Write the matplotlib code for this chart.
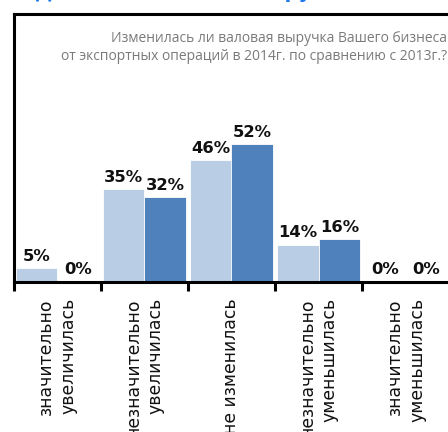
import matplotlib
matplotlib.use("Agg")
import matplotlib.pyplot as plt
import numpy as np

# Survey answers and shares (%) for the two years
categories = [
    "значительно\nувеличилась",
    "незначительно\nувеличилась",
    "не изменилась",
    "незначительно\nуменьшилась",
    "значительно\nуменьшилась",
]
share_2013 = [5, 35, 46, 14, 0]
share_2014 = [0, 32, 52, 16, 0]

title_lines = [
    "Изменилась ли валовая выручка Вашего бизнеса",
    "от экспортных операций в 2014г. по сравнению с 2013г.?",
]
heading = "Динамика валовой выручки от экспортных операций"

W, H = 448, 432
fig = plt.figure(figsize=(W / 100, H / 100), dpi=100)

# plot area in pixel coordinates (left, top, right, bottom)
px_l, px_t, px_r, px_b = 13.5, 13.5, 449.5, 281.5
ax = fig.add_axes([px_l / W, 1 - px_b / H, (px_r - px_l) / W, (px_b - px_t) / H])

x = np.arange(len(categories))
bw = 0.475
light = "#B9CDE5"
dark = "#4F81BD"
b1 = ax.bar(x - bw / 2, share_2013, width=bw, color=light, edgecolor="white", linewidth=0.6)
b2 = ax.bar(x + bw / 2, share_2014, width=bw, color=dark, edgecolor="white", linewidth=0.6)

for bars, vals in ((b1, share_2013), (b2, share_2014)):
    for rect, v in zip(bars, vals):
        ax.annotate(f"{v}%", (rect.get_x() + rect.get_width() / 2, v),
                    xytext=(0, 3), textcoords="offset points",
                    ha="center", va="bottom", fontsize=11.8,
                    fontweight="bold", color="#111111", family="DejaVu Sans")

ax.set_xlim(-0.5, len(categories) - 0.5)
ax.set_ylim(0, 101.5)
ax.set_yticks([])

ax.set_xticks(x)
ax.set_xticklabels(categories, rotation=90, ha="center", va="top",
                   multialignment="right", fontsize=12.4, linespacing=1.3,
                   family="DejaVu Sans", color="#111111")
ax.tick_params(axis="x", which="major", length=0, pad=12)
ax.set_xticks(np.arange(-0.5, len(categories)), minor=True)
ax.tick_params(axis="x", which="minor", length=6.5, width=2.2,
               direction="out", color="black")

for side in ("left", "top", "bottom"):
    ax.spines[side].set_linewidth(2.2)
    ax.spines[side].set_color("black")
ax.spines["right"].set_visible(False)

# question text, right aligned in the upper part of the chart area
fig.text(447 / W, 1 - 31 / H, "\n".join(title_lines), ha="right", va="top",
         multialignment="right", fontsize=10, color="#7a7a7a",
         family="Open Sans", linespacing=1.3)

# page heading above the chart
fig.text(35 / W, 1 + 2.5 / H, heading, ha="left", va="baseline",
         fontsize=14, fontweight="bold", color="#1F78E8", family="DejaVu Sans")

fig.savefig("out.png", dpi=100)
